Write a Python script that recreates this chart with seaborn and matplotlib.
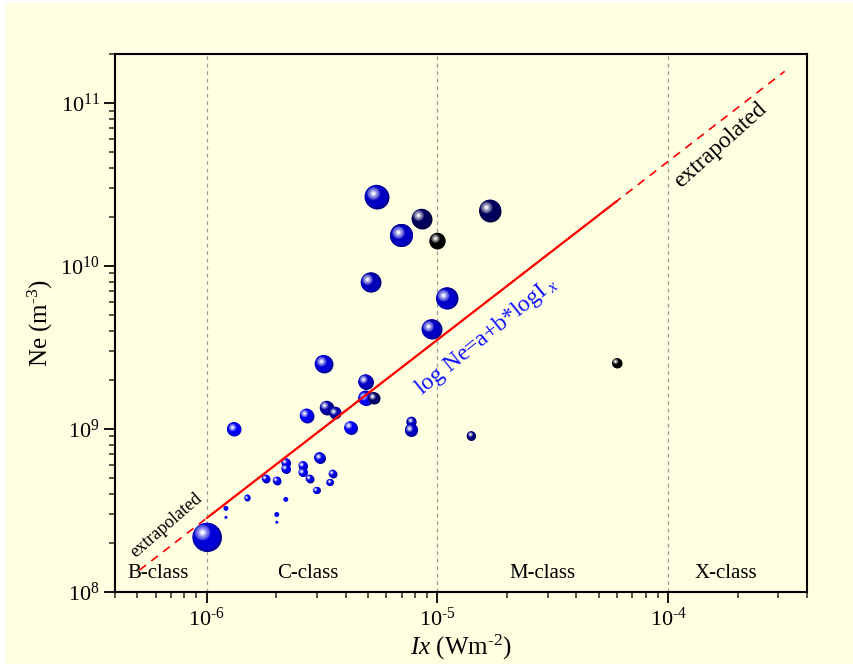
import numpy as np
import pandas as pd
import matplotlib
matplotlib.use("Agg")
import matplotlib.pyplot as plt
from matplotlib.colors import LinearSegmentedColormap
from matplotlib.patches import Rectangle
from matplotlib.transforms import offset_copy
from matplotlib.ticker import LogLocator, NullFormatter, FuncFormatter
import seaborn as sns

# Datos
# ==============================================================================
ix = [1.0e-6, 1.21e-6, 1.21e-6, 1.50e-6, 2.01e-6, 2.01e-6, 2.20e-6, 1.31e-6,
      1.80e-6, 2.01e-6, 2.20e-6, 2.20e-6, 2.61e-6, 2.61e-6, 2.79e-6, 3.08e-6,
      3.51e-6, 3.41e-6, 2.99e-6, 2.71e-6, 3.31e-6, 3.61e-6, 4.20e-6, 4.88e-6,
      4.88e-6, 5.28e-6, 3.21e-6, 7.71e-6, 7.71e-6, 1.40e-5, 6.0e-5, 9.42e-6,
      1.10e-5, 5.44e-6, 8.53e-6, 6.98e-6, 1.0e-5, 1.69e-5, 5.13e-6]
ne = [2.17e8, 3.26e8, 2.87e8, 3.80e8, 2.99e8, 2.68e8, 3.70e8, 1.0e9,
      4.97e8, 4.83e8, 6.22e8, 5.71e8, 5.97e8, 5.43e8, 4.97e8, 6.68e8,
      5.33e8, 4.70e8, 4.20e8, 1.21e9, 1.35e9, 1.26e9, 1.02e9, 1.95e9,
      1.55e9, 1.55e9, 2.51e9, 1.11e9, 0.99e9, 9.1e8, 2.54e9, 4.1e9,
      6.34e9, 2.66e10, 1.95e10, 1.54e10, 1.43e10, 2.19e10, 7.94e9]
# tamaño relativo de la burbuja (diametro en px) y tono (0 azul -> 1 negro)
peso = [29, 5, 3, 6, 5, 3, 5, 14,
        8, 8, 9, 9, 9, 9, 8, 11,
        8, 7, 7, 14, 14, 12, 13, 15,
        15, 12, 18, 10, 13, 9, 10, 20,
        22, 24, 20, 23, 16, 22, 20]
tono = [0.2, 0.0, 0.0, 0.0, 0.0, 0.0, 0.0, 0.05,
        0.05, 0.05, 0.1, 0.1, 0.1, 0.1, 0.1, 0.15,
        0.1, 0.1, 0.05, 0.05, 0.45, 0.45, 0.05, 0.3,
        0.05, 0.65, 0.2, 0.35, 0.3, 0.6, 1.0, 0.3,
        0.25, 0.3, 0.7, 0.3, 1.0, 0.7, 0.35]

# Ajuste log Ne = a + b*log Ix
a_fit, b_fit = 15.018, 1.094
rango_fit = [1.0e-6, 6.0e-5]
rango_ext = [5.1e-7, 3.2e-4]

clases = ["B-class", "C-class", "M-class", "X-class"]
clases_x = [6.14e-7, 2.73e-6, 2.85e-5, 1.78e-4]
limites_clase = [1e-6, 1e-5, 1e-4]

df = pd.DataFrame({"Ix": ix, "Ne": ne, "peso": peso, "tono": tono})
df["s"] = (df["peso"] * 0.72) ** 2

# Estilo
# ==============================================================================
sns.set_style("ticks")
fondo = "#FEFEE1"
plt.rcParams["font.family"] = ["Liberation Serif", "DejaVu Serif"]
plt.rcParams["mathtext.fontset"] = "custom"
plt.rcParams["mathtext.rm"] = "Liberation Serif"
plt.rcParams["mathtext.it"] = "Liberation Serif:italic"
plt.rcParams["axes.unicode_minus"] = False
plt.rcParams["text.color"] = "black"
plt.rcParams["axes.labelcolor"] = "black"

cmap = LinearSegmentedColormap.from_list("azul", ["#0000ff", "#00009a", "#000000"])

fig = plt.figure(figsize=(8.54, 6.64), dpi=100, facecolor="white")
fig.patches.append(Rectangle((5 / 854, 0), 1, 1 - 3 / 664, transform=fig.transFigure,
                             facecolor=fondo, edgecolor="none", zorder=-10))
ax = fig.add_axes([0.1347, 0.1084, 0.8103, 0.8103])
ax.set_facecolor(fondo)
ax.set_xscale("log")
ax.set_yscale("log")

# Burbujas
# ==============================================================================
smin, smax = df["s"].min(), df["s"].max()
sns.scatterplot(data=df, x="Ix", y="Ne", hue="tono", palette=cmap, hue_norm=(0, 1),
                size="s", sizes=(smin, smax), size_norm=(smin, smax),
                linewidth=0, legend=False, ax=ax, zorder=3)

# brillo esferico
blanco = np.array([1.0, 1.0, 1.0])
for xi, yi, di, ci in zip(df["Ix"], df["Ne"], df["peso"], df["tono"]):
    if di < 6:
        continue
    r = di * 0.72 / 2
    base = np.array(cmap(ci)[:3])
    # borde ligeramente mas oscuro
    ax.scatter([xi], [yi], s=(2 * r) ** 2, color=base * 0.72, linewidths=0, zorder=3)
    ax.scatter([xi], [yi], s=(2 * r * 0.9) ** 2, color=base, linewidths=0, zorder=3,
               transform=offset_copy(ax.transData, fig=fig, x=-0.05 * r, y=0.05 * r,
                                     units="points"))
    n = 8
    for k in range(1, n + 1):
        f = k / n
        rk = r * (0.62 - 0.5 * f)
        off = 0.33 * r
        col = base + (blanco - base) * (0.25 + 0.72 * f ** 1.6)
        tr = offset_copy(ax.transData, fig=fig, x=-off, y=off, units="points")
        ax.scatter([xi], [yi], s=(2 * rk) ** 2, color=col, transform=tr,
                   linewidths=0, zorder=3, alpha=0.55 if k == 1 else 1)

# Recta de ajuste
# ==============================================================================
xe = np.array(rango_ext)
xf = np.array(rango_fit)
ax.plot(xe, 10 ** (a_fit + b_fit * np.log10(xe)), color="red", lw=1.2,
        ls=(0, (5, 4)), zorder=4)
ax.plot(xf, 10 ** (a_fit + b_fit * np.log10(xf)), color="red", lw=1.6, zorder=5)

for xv in limites_clase:
    ax.axvline(xv, color="#9a9a9a", lw=0.9, ls=(0, (3, 3)), zorder=1)

# Textos
# ==============================================================================
for nombre, xc in zip(clases, clases_x):
    ax.text(xc, 1.29e8, nombre, ha="center", va="center", fontsize=15)
ax.text(1.68e-4, 5.53e10, "extrapolated", rotation=42, ha="center", va="center",
        fontsize=17, rotation_mode="anchor")
ax.text(6.65e-7, 2.56e8, "extrapolated", rotation=41, ha="center", va="center",
        fontsize=13, rotation_mode="anchor")
ax.text(1.63e-5, 3.75e9, r"log Ne=a+b*logI$_{\ x}$", rotation=39, ha="center",
        va="center", fontsize=17, color="#1010ff", rotation_mode="anchor")


# Etiquetas de potencias con guion corto
def potencia(v, pos):
    e = int(round(np.log10(v)))
    if e < 0:
        return r"$10^{\text{-}%d}$" % (-e)
    return r"$10^{%d}$" % e


# Ejes
# ==============================================================================
ax.set_xlim(4e-7, 4e-4)
ax.set_ylim(1e8, 2e11)
ax.set_xlabel(r"$\mathit{Ix}$ (Wm$^{\text{-}2}$)", fontsize=18, labelpad=2)
ax.set_ylabel(r"Ne (m$^{\text{-}3}$)", fontsize=18, labelpad=4)
ax.xaxis.set_major_locator(LogLocator(base=10, numticks=10))
ax.yaxis.set_major_locator(LogLocator(base=10, numticks=10))
for eje in (ax.xaxis, ax.yaxis):
    eje.set_major_formatter(FuncFormatter(potencia))
    eje.set_minor_locator(LogLocator(base=10, subs=np.arange(2, 10), numticks=20))
    eje.set_minor_formatter(NullFormatter())
ax.tick_params(which="major", direction="out", length=8, width=1.3, labelsize=16,
               colors="black", top=False, right=False, pad=3)
ax.tick_params(which="minor", direction="out", length=4.5, width=1.1,
               top=False, right=False)
for sp in ax.spines.values():
    sp.set_visible(True)
    sp.set_color("black")
    sp.set_linewidth(1.5)

fig.savefig("out.png", dpi=100, facecolor=fig.get_facecolor())
